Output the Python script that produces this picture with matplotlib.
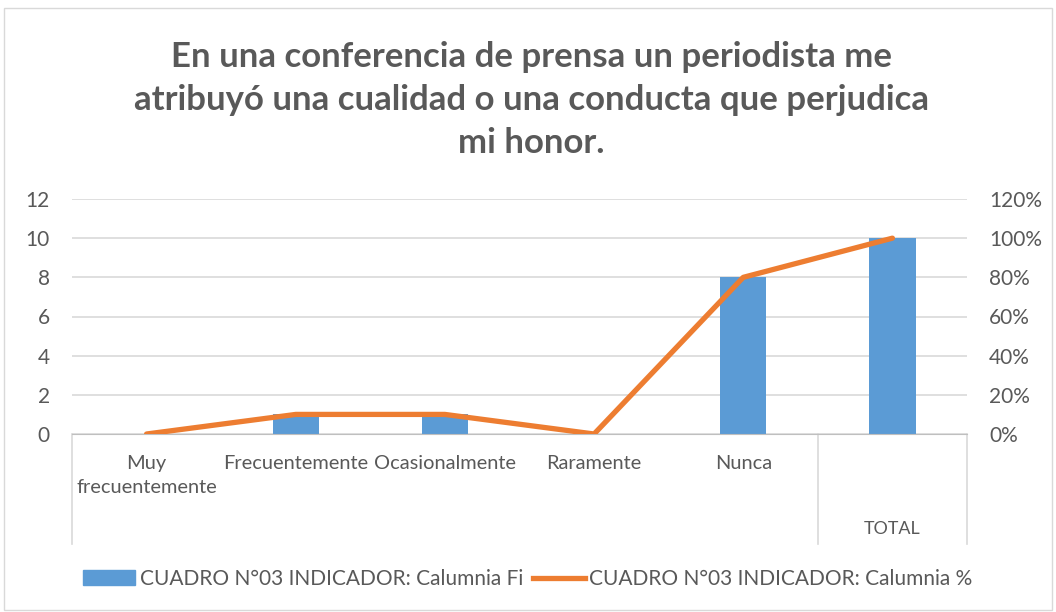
import matplotlib.pyplot as plt
from matplotlib.patches import Rectangle
from matplotlib.lines import Line2D
from matplotlib.ticker import FuncFormatter
import matplotlib.transforms as mtransforms

categories = ["Muy\nfrecuentemente", "Frecuentemente", "Ocasionalmente", "Raramente", "Nunca", ""]
group_label = "TOTAL"
fi_values = [0, 1, 1, 0, 8, 10]
pct_values = [0.0, 0.10, 0.10, 0.0, 0.80, 1.00]

blue = "#5b9bd5"
orange = "#ed7d31"
txt = "#595959"

plt.rcParams['font.family'] = ['Lato', 'DejaVu Sans']

fig = plt.figure(figsize=(10.56, 6.12), dpi=100)
fig.patches.append(Rectangle((0.004, 0.003), 0.992, 0.984, transform=fig.transFigure,
                             fill=False, edgecolor="#d9d9d9", linewidth=1))

ax = fig.add_axes([72 / 1056, 1 - 434 / 612, (967 - 72) / 1056, (434 - 199) / 612])
x = list(range(len(categories)))
ax.bar(x, fi_values, width=0.31, color=blue, zorder=2)
ax.set_xlim(-0.5, len(categories) - 0.5)
ax.set_ylim(0, 12)
ax.set_yticks(range(0, 13, 2))
ax.grid(axis="y", color="#d9d9d9", linewidth=1.2, zorder=0)
ax.set_axisbelow(True)
for s in ["top", "right", "left"]:
    ax.spines[s].set_visible(False)
ax.spines["bottom"].set_color("#bfbfbf")
ax.tick_params(axis="y", length=0, labelsize=15, colors=txt, pad=16)
ax.set_xticks(x)
ax.set_xticklabels(categories, fontsize=14.4, color=txt, va="top", linespacing=1.5)
ax.tick_params(axis="x", length=0, pad=15)

# multi-level category box lines
trans = mtransforms.blended_transform_factory(ax.transData, ax.transAxes)
for xv in [-0.5, 4.5, 5.5]:
    ax.plot([xv, xv], [0, -0.47], color="#d9d9d9", linewidth=1.2, transform=trans, clip_on=False)
ax.text(5, -0.405, group_label, transform=trans, ha="center", va="center", fontsize=12.9, color=txt)

ax2 = ax.twinx()
ax2.plot(x, pct_values, color=orange, linewidth=3.8, solid_capstyle="round", zorder=3)
ax2.set_ylim(0, 1.2)
ax2.set_yticks([i / 10 for i in range(0, 13, 2)])
ax2.yaxis.set_major_formatter(FuncFormatter(lambda v, p: f"{v * 100:.0f}%"))
ax2.tick_params(axis="y", length=0, labelsize=15, colors=txt, pad=16)
for s in ["top", "right", "left", "bottom"]:
    ax2.spines[s].set_visible(False)

fig.text(0.503, 0.837, "En una conferencia de prensa un periodista me\natribuyó una cualidad o una conducta que perjudica\nmi honor.",
         ha="center", va="center", fontsize=25, fontweight="bold", color=txt, linespacing=1.42)

handles = [Rectangle((0, 0), 1, 1, color=blue), Line2D([0], [0], color=orange, linewidth=3.8)]
fig.legend(handles, ["CUADRO N°03 INDICADOR: Calumnia Fi", "CUADRO N°03 INDICADOR: Calumnia %"],
           loc="center", bbox_to_anchor=(0.5, 0.054), ncol=2, frameon=False, fontsize=15,
           labelcolor=txt, handlelength=2.5, handletextpad=0.2, columnspacing=0.5)

fig.savefig("out.png", dpi=100)
